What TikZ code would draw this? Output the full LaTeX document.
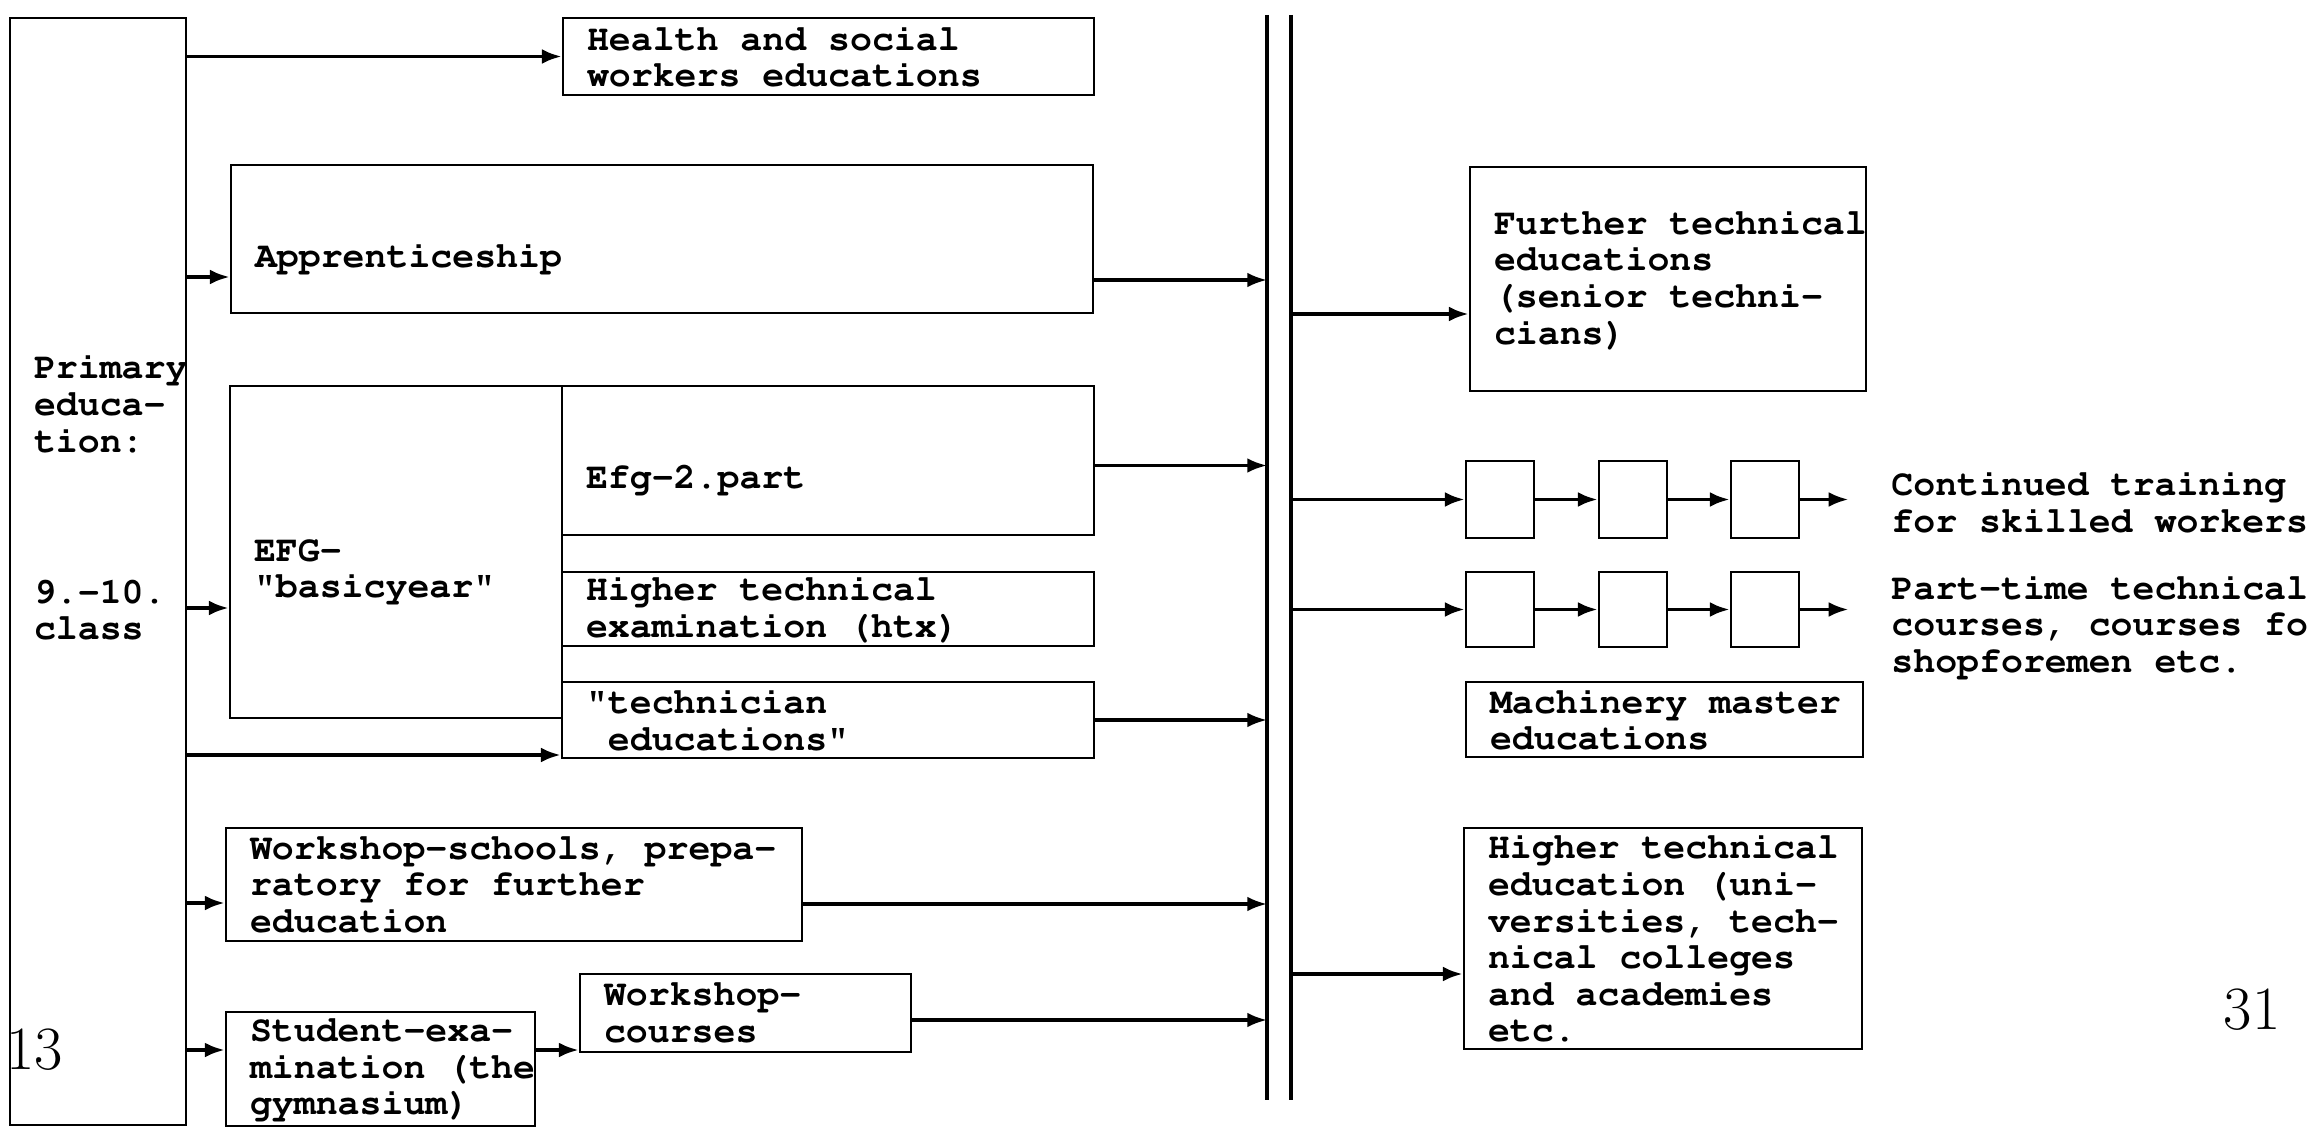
\documentclass[tikz,border=0pt]{standalone}
\usepackage[T1,TU]{fontenc}
\usepackage{tikz}
\usetikzlibrary{arrows.meta, positioning, calc}

\newcommand{\tw}{\fontencoding{T1}\fontfamily{pcr}\fontsize{10.4}{10.4}\selectfont\bfseries}
\newcommand{\pnfont}{\fontsize{17.5}{17.5}\selectfont}

\begin{document}
\begin{tikzpicture}[>={Latex[length=5.6pt,width=4.2pt]}, line width=0.8pt,
  box/.style={draw, inner sep=0pt},
  txt/.style={font=\tw, align=left, anchor=west, inner sep=0pt},
  arr/.style={->, line width=0.95pt},
  pagenr/.style={font=\pnfont, inner sep=0pt}]
  \useasboundingbox (0,0) rectangle (23.14,-11.29);

  % left column
  \node[box, minimum width=1.76cm, minimum height=11.07cm] (prim) at (0.98,-5.715) {};
  \node[box, minimum width=5.31cm, minimum height=0.77cm] (hl) at (8.285,-0.565) {};
  \node[box, minimum width=8.62cm, minimum height=1.48cm] (app) at (6.62,-2.39) {};
  \node[box, minimum width=3.32cm, minimum height=3.32cm] (efg) at (3.96,-5.52) {};
  \node[box, minimum width=5.32cm, minimum height=1.49cm] (efgtwo) at (8.28,-4.605) {};
  \node[box, minimum width=5.32cm, minimum height=0.74cm] (htx) at (8.28,-6.09) {};
  \node[box, minimum width=5.32cm, minimum height=0.76cm] (tech) at (8.28,-7.20) {};
  \node[box, minimum width=5.76cm, minimum height=1.13cm] (wss) at (5.14,-8.845) {};
  \node[box, minimum width=3.09cm, minimum height=1.14cm] (stud) at (3.805,-10.69) {};
  \node[box, minimum width=3.31cm, minimum height=0.78cm] (wsc) at (7.455,-10.13) {};

  % right column
  \node[box, minimum width=3.96cm, minimum height=2.24cm] (ft) at (16.68,-2.79) {};
  \foreach \x/\n in {15.00/a, 16.33/b, 17.65/c} {
    \node[box, minimum width=0.68cm, minimum height=0.77cm] (r1\n) at (\x,-4.995) {};
    \node[box, minimum width=0.68cm, minimum height=0.75cm] (r2\n) at (\x,-6.095) {};
  }
  \node[box, minimum width=3.97cm, minimum height=0.75cm] (mach) at (16.645,-7.195) {};
  \node[box, minimum width=3.98cm, minimum height=2.21cm] (hte) at (16.63,-9.385) {};

  % double bar
  \coordinate (busltop) at (12.67,-0.15);
  \coordinate (buslbot) at (12.67,-11.00);
  \coordinate (busrtop) at (12.91,-0.15);
  \coordinate (busrbot) at (12.91,-11.00);
  \draw[line width=0.95pt] (busltop) -- (buslbot);
  \draw[line width=0.95pt] (busrtop) -- (busrbot);

  % texts
  \node[txt] (primt) at ([xshift=2.4mm, yshift=7.4mm]prim.west) {Primary\\educa-\\tion:\\[1.145cm]9.-10.\\class};
  \node[txt] (hlt) at ([xshift=2.4mm]hl.west) {Health and social\\workers educations};
  \node[txt] (appt) at ([xshift=2.4mm, yshift=-1.9mm]app.west) {Apprenticeship};
  \node[txt] (efgt) at ([xshift=2.4mm, yshift=-1.9mm]efg.west) {EFG-\\"basicyear"};
  \node[txt] (efgtwot) at ([xshift=2.4mm, yshift=-1.9mm]efgtwo.west) {Efg-2.part};
  \node[txt] (htxt) at ([xshift=2.4mm]htx.west) {Higher technical\\examination (htx)};
  \node[txt] (techt) at ([xshift=2.4mm]tech.west) {"technician\\\phantom{x}educations"};
  \node[txt] (wsst) at ([xshift=2.4mm]wss.west) {Workshop-schools, prepa-\\ratory for further\\education};
  \node[txt] (studt) at ([xshift=2.4mm]stud.west) {Student-exa-\\mination (the\\gymnasium)};
  \node[txt] (wsct) at ([xshift=2.4mm]wsc.west) {Workshop-\\courses};
  \node[txt] (ftt) at ([xshift=2.4mm]ft.west) {Further technical\\educations\\(senior techni-\\cians)};
  \node[txt] (macht) at ([xshift=2.4mm]mach.west) {Machinery master\\educations};
  \node[txt] (htet) at ([xshift=2.4mm]hte.west) {Higher technical\\education (uni-\\versities, tech-\\nical colleges\\and academies\\etc.};
  \node[txt] (cont) at (18.90,-5.02) {Continued training\\for skilled workers};
  \node[txt] (part) at (18.90,-6.26) {Part-time technical\\courses, courses fo\\shopforemen etc.};
  \node[pagenr] (pgl) at (0.345,-10.50) {13};
  \node[pagenr] (pgr) at (22.52,-10.10) {31};

  % arrows out of primary education
  \coordinate (appin) at ([yshift=-3.8mm]app.west);
  \coordinate (efgin) at ([yshift=-5.6mm]efg.west);
  \coordinate (techin) at ([yshift=-3.5mm]tech.west);
  \coordinate (wssin) at ([yshift=-1.85mm]wss.west);
  \coordinate (studin) at ([yshift=1.9mm]stud.west);
  \coordinate (wscin) at ([yshift=-3.7mm]wsc.west);
  \draw[arr] (prim.east |- hl.west) -- (hl.west);
  \draw[arr] (prim.east |- appin) -- (appin);
  \draw[arr] (prim.east |- efgin) -- (efgin);
  \draw[arr] (prim.east |- techin) -- (techin);
  \draw[arr] (prim.east |- wssin) -- (wssin);
  \draw[arr] (prim.east |- studin) -- (studin);
  \draw[arr] (stud.east |- wscin) -- (wscin);

  % arrows into the bar
  \coordinate (appout) at ([yshift=-4.1mm]app.east);
  \coordinate (efgtwoout) at ([yshift=-0.5mm]efgtwo.east);
  \coordinate (wssout) at ([yshift=-1.95mm]wss.east);
  \coordinate (wscout) at ([yshift=-0.7mm]wsc.east);
  \draw[arr] (appout) -- (appout -| busltop);
  \draw[arr] (efgtwoout) -- (efgtwoout -| busltop);
  \draw[arr] (tech.east) -- (tech.east -| busltop);
  \draw[arr] (wssout) -- (wssout -| busltop);
  \draw[arr] (wscout) -- (wscout -| busltop);

  % arrows out of the bar
  \coordinate (ftin) at ([yshift=-3.5mm]ft.west);
  \coordinate (htein) at ([yshift=-3.55mm]hte.west);
  \draw[arr] (ftin -| busrtop) -- (ftin);
  \draw[arr] (r1a.west -| busrtop) -- (r1a.west);
  \draw[arr] (r2a.west -| busrtop) -- (r2a.west);
  \draw[arr] (htein -| busrtop) -- (htein);

  % chains of courses
  \coordinate (r1end) at ([xshift=4.8mm]r1c.east);
  \coordinate (r2end) at ([xshift=4.8mm]r2c.east);
  \draw[arr] (r1a) -- (r1b);
  \draw[arr] (r1b) -- (r1c);
  \draw[arr] (r1c) -- (r1end);
  \draw[arr] (r2a) -- (r2b);
  \draw[arr] (r2b) -- (r2c);
  \draw[arr] (r2c) -- (r2end);
\end{tikzpicture}
\end{document}
